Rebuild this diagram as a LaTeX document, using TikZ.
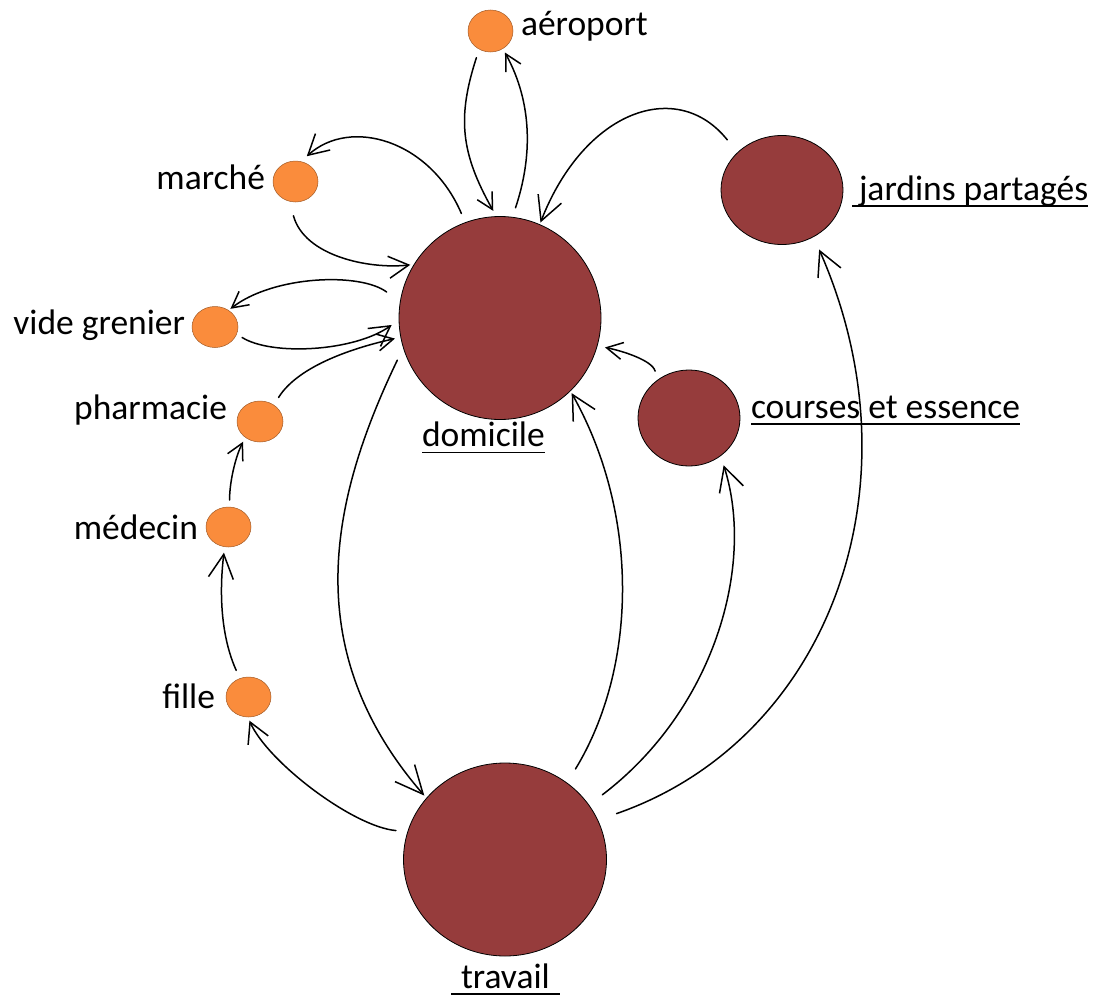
\documentclass[tikz,border=0pt]{standalone}
\usepackage{fontspec}
\setmainfont{Carlito}
\usetikzlibrary{arrows.meta,shapes.geometric}
\definecolor{orng}{RGB}{250,140,60}
\definecolor{brick}{RGB}{150,60,60}
\tikzset{
  dot/.style={ellipse, fill=orng, draw=orng!65!black, line width=0.5pt, inner sep=0pt, outer sep=0pt},
  bigdisc/.style={ellipse, fill=brick, draw=black, line width=0.8pt, inner sep=0pt, outer sep=0pt},
  lbl/.style={inner sep=0pt, outer sep=0pt, font=\fontsize{35.5}{40}\selectfont},
  conn/.style={line width=1.5pt, line cap=round},
  ul/.style={line width=1.8pt},
  arS/.style={-{Straight Barb[length=16pt,width=17pt]}},
  arM/.style={-{Straight Barb[length=20pt,width=22pt]}},
  arL/.style={-{Straight Barb[length=24pt,width=25pt]}},
  arXL/.style={-{Straight Barb[length=28pt,width=26pt]}}
}
\begin{document}
\begin{tikzpicture}[x=1pt,y=-1pt]
\useasboundingbox (0,0) rectangle (1100,998);
% nodes
\node[dot, minimum width=45pt, minimum height=42pt] (aer) at (490.5,31) {};
\node[dot, minimum width=45pt, minimum height=41pt] (mar) at (295.5,181.5) {};
\node[dot, minimum width=46pt, minimum height=41pt] (vid) at (215,327) {};
\node[dot, minimum width=46pt, minimum height=41pt] (pha) at (260,421.5) {};
\node[dot, minimum width=45pt, minimum height=40pt] (med) at (228.5,527) {};
\node[dot, minimum width=45pt, minimum height=40pt] (fil) at (248.5,697) {};
\node[bigdisc, minimum width=202pt, minimum height=203pt] (dom) at (500,318) {};
\node[bigdisc, minimum width=203pt, minimum height=193pt] (tra) at (505,859.5) {};
\node[bigdisc, minimum width=122pt, minimum height=109pt] (jar) at (782,190) {};
\node[bigdisc, minimum width=102pt, minimum height=96pt] (cou) at (689,418) {};
% labels
\node[lbl, anchor=base west] (aerl) at (521,36) {aéroport};
\node[lbl, anchor=base east] (marl) at (265,189) {marché};
\node[lbl, anchor=base east] (vidl) at (185,334) {vide grenier};
\node[lbl, anchor=base east] (phal) at (227,419) {pharmacie};
\node[lbl, anchor=base east] (medl) at (198,539) {médecin};
\node[lbl, anchor=base east] (fill) at (215,708) {fille};
\node[lbl, anchor=base west] (doml) at (422,446.5) {domicile};
\node[lbl, anchor=base west] (coul) at (751,418) {courses et essence};
\node[lbl, anchor=base west] (jarl) at (859,200) {jardins partagés};
\node[lbl, anchor=base west] (tral) at (461,988) {travail};
% underlines
\draw[ul] ([yshift=-6pt]doml.base west) -- ([yshift=-6pt]doml.base east);
\draw[ul] ([yshift=-6pt]coul.base west) -- ([yshift=-6pt]coul.base east);
\draw[ul] ([xshift=-7pt,yshift=-6pt]jarl.base west) -- ([yshift=-6pt]jarl.base east);
\draw[ul] ([xshift=-10pt,yshift=-6pt]tral.base west) -- ([xshift=10pt,yshift=-6pt]tral.base east);
% connectors
\draw[conn, arS, shorten <=9pt, shorten >=6.5pt] (aer.238) .. controls +(-22,68) and +(-36,-64) .. (dom.92);
\draw[conn, arS, shorten <=10pt, shorten >=4.5pt] (dom.83) .. controls +(20,-60) and +(30,55) .. (aer.305);
\draw[conn, arM, shorten <=10pt, shorten >=8pt] (dom.110) .. controls +(-35,-82) and +(50,-45) .. (mar.75);
\draw[conn, arM, shorten <=15pt, shorten >=4pt] (mar.253) .. controls +(15,55) and +(-45,5) .. (dom.148);
\draw[conn, arS, shorten <=17pt, shorten >=2.5pt] (dom.171) .. controls +(-40,-30) and +(45,-35) .. (vid.51);
\draw[conn, arM, shorten <=6.5pt, shorten >=9pt] (vid.342) .. controls +(35,22) and +(-45,32) .. (dom.181);
\draw[conn, arS, shorten <=9pt, shorten >=6pt] (pha.50) .. controls +(25,-40) and +(-45,10) .. (dom.191);
\draw[conn, arS, shorten <=7pt, shorten >=5pt] (med.87) .. controls +(0,-25) and +(-10,20) .. (pha.227);
\draw[conn, arL, shorten <=9pt, shorten >=6pt] (fil.115) .. controls +(-18,-40) and +(-6,50) .. (med.259);
\draw[conn, arM, shorten <=12pt, shorten >=4pt] (tra.164) .. controls +(-55,-5) and +(20,45) .. (fil.268);
\draw[conn, arXL, shorten <=14pt, shorten >=3.5pt] (dom.197) .. controls +(-72,150) and +(-130,-150) .. (tra.142);
\draw[conn, arL, shorten <=16.5pt, shorten >=2.7pt] (tra.51) .. controls +(70,-115) and +(70,125) .. (dom.314);
\draw[conn, arL, shorten <=17pt, shorten >=10pt] (tra.33) .. controls +(125,-95) and +(35,110) .. (cou.310);
\draw[conn, arL, shorten <=20pt, shorten >=14pt] (tra.23) .. controls +(230,-80) and +(110,250) .. (jar.304);
\draw[conn, arS, shorten <=9.5pt, shorten >=8pt] (cou.130) .. controls +(-5,-20) and +(25,5) .. (dom.344);
\draw[conn, arL, shorten <=16.5pt, shorten >=2.3pt] (jar.140) .. controls +(-60,-75) and +(45,-115) .. (dom.67);
\end{tikzpicture}
\end{document}
